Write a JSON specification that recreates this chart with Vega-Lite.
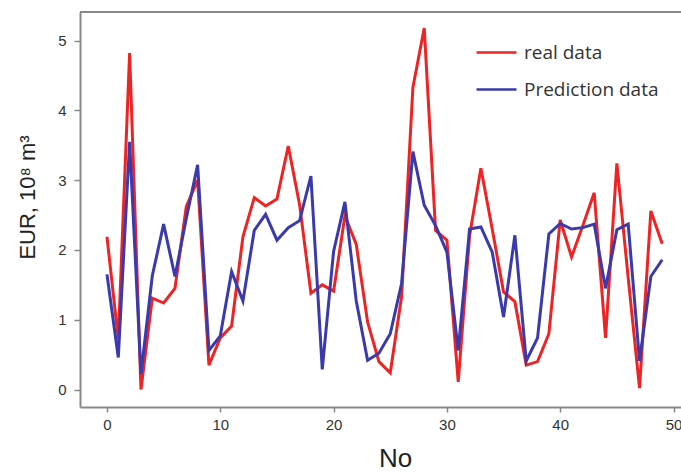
{
  "$schema": "https://vega.github.io/schema/vega-lite/v6.json",
  "width": 601,
  "height": 395,
  "autosize": {"type": "none"},
  "padding": {"left": 80, "top": 12, "right": 0, "bottom": 65},
  "background": "white",
  "config": {"view": {"stroke": null}},
  "data": {"values": [
    {"No": 0, "real data": 2.19, "Prediction data": 1.65},
    {"No": 1, "real data": 0.72, "Prediction data": 0.46},
    {"No": 2, "real data": 4.82, "Prediction data": 3.55},
    {"No": 3, "real data": 0.0, "Prediction data": 0.22},
    {"No": 4, "real data": 1.31, "Prediction data": 1.63},
    {"No": 5, "real data": 1.24, "Prediction data": 2.37},
    {"No": 6, "real data": 1.45, "Prediction data": 1.62},
    {"No": 7, "real data": 2.62, "Prediction data": 2.45},
    {"No": 8, "real data": 3.0, "Prediction data": 3.22},
    {"No": 9, "real data": 0.35, "Prediction data": 0.56},
    {"No": 10, "real data": 0.74, "Prediction data": 0.77},
    {"No": 11, "real data": 0.91, "Prediction data": 1.69},
    {"No": 12, "real data": 2.19, "Prediction data": 1.27},
    {"No": 13, "real data": 2.75, "Prediction data": 2.28},
    {"No": 14, "real data": 2.63, "Prediction data": 2.51},
    {"No": 15, "real data": 2.73, "Prediction data": 2.14},
    {"No": 16, "real data": 3.49, "Prediction data": 2.32},
    {"No": 17, "real data": 2.65, "Prediction data": 2.42},
    {"No": 18, "real data": 1.38, "Prediction data": 3.06},
    {"No": 19, "real data": 1.5, "Prediction data": 0.29},
    {"No": 20, "real data": 1.41, "Prediction data": 1.98},
    {"No": 21, "real data": 2.49, "Prediction data": 2.69},
    {"No": 22, "real data": 2.08, "Prediction data": 1.27},
    {"No": 23, "real data": 0.97, "Prediction data": 0.42},
    {"No": 24, "real data": 0.4, "Prediction data": 0.52},
    {"No": 25, "real data": 0.24, "Prediction data": 0.8},
    {"No": 26, "real data": 1.33, "Prediction data": 1.52},
    {"No": 27, "real data": 4.33, "Prediction data": 3.41},
    {"No": 28, "real data": 5.18, "Prediction data": 2.64},
    {"No": 29, "real data": 2.28, "Prediction data": 2.35},
    {"No": 30, "real data": 2.14, "Prediction data": 1.97},
    {"No": 31, "real data": 0.11, "Prediction data": 0.56},
    {"No": 32, "real data": 2.2, "Prediction data": 2.3},
    {"No": 33, "real data": 3.17, "Prediction data": 2.33},
    {"No": 34, "real data": 2.3, "Prediction data": 1.97},
    {"No": 35, "real data": 1.4, "Prediction data": 1.04},
    {"No": 36, "real data": 1.26, "Prediction data": 2.21},
    {"No": 37, "real data": 0.35, "Prediction data": 0.41},
    {"No": 38, "real data": 0.4, "Prediction data": 0.74},
    {"No": 39, "real data": 0.8, "Prediction data": 2.23},
    {"No": 40, "real data": 2.43, "Prediction data": 2.38},
    {"No": 41, "real data": 1.9, "Prediction data": 2.3},
    {"No": 42, "real data": 2.35, "Prediction data": 2.32},
    {"No": 43, "real data": 2.82, "Prediction data": 2.37},
    {"No": 44, "real data": 0.74, "Prediction data": 1.45},
    {"No": 45, "real data": 3.24, "Prediction data": 2.29},
    {"No": 46, "real data": 1.6, "Prediction data": 2.37},
    {"No": 47, "real data": 0.02, "Prediction data": 0.41},
    {"No": 48, "real data": 2.56, "Prediction data": 1.62},
    {"No": 49, "real data": 2.09, "Prediction data": 1.86}
  ]},
  "layer": [
    {
      "transform": [{"fold": ["real data", "Prediction data"], "as": ["series", "EUR"]}],
      "mark": {"type": "line", "strokeWidth": 3, "clip": true},
      "encoding": {
        "x": {
          "field": "No", "type": "quantitative",
          "scale": {"domain": [-2.38, 50.66], "nice": false, "zero": false},
          "axis": {
            "title": "No", "values": [0, 10, 20, 30, 40, 50], "grid": false, "format": "d",
            "domainColor": "#888888", "domainWidth": 2,
            "tickColor": "#888888", "tickWidth": 1.5, "tickSize": 5,
            "labelFont": "Liberation Sans", "labelFontSize": 15, "labelColor": "#333333", "labelPadding": 5,
            "labelFlush": false,
            "titleFont": "Liberation Sans", "titleFontSize": 26, "titleFontWeight": "normal", "titleColor": "#222222",
            "titleX": 315, "titleY": 59, "titleBaseline": "alphabetic", "titleAlign": "center"
          }
        },
        "y": {
          "field": "EUR", "type": "quantitative",
          "scale": {"domain": [-0.25, 5.41], "nice": false, "zero": false},
          "axis": {
            "title": "EUR, 10⁸ m³", "values": [0, 1, 2, 3, 4, 5], "grid": false, "format": "d",
            "domainColor": "#888888", "domainWidth": 2,
            "tickColor": "#888888", "tickWidth": 1.5, "tickSize": 6,
            "labelFont": "Liberation Sans", "labelFontSize": 15, "labelColor": "#333333", "labelPadding": 8,
            "titleFont": "Liberation Sans", "titleFontSize": 22, "titleFontWeight": "normal", "titleColor": "#222222",
            "titleX": -53, "titleY": 185, "titleAngle": -90, "titleAlign": "center", "titleBaseline": "middle"
          }
        },
        "color": {
          "field": "series", "type": "nominal",
          "scale": {"domain": ["real data", "Prediction data"], "range": ["#ee2424", "#3a3aac"]},
          "legend": {
            "orient": "none", "legendX": 395, "legendY": 19, "title": null,
            "symbolType": "stroke", "symbolSize": 1600, "symbolStrokeWidth": 2.5,
            "labelFont": "Open Sans", "labelFontSize": 19, "labelColor": "#333333", "labelOffset": 6,
            "rowPadding": 5, "padding": 0
          }
        }
      }
    },
    {
      "mark": {"type": "rule", "color": "#888888", "strokeWidth": 2},
      "encoding": {"y": {"datum": 5.41}}
    }
  ]
}
